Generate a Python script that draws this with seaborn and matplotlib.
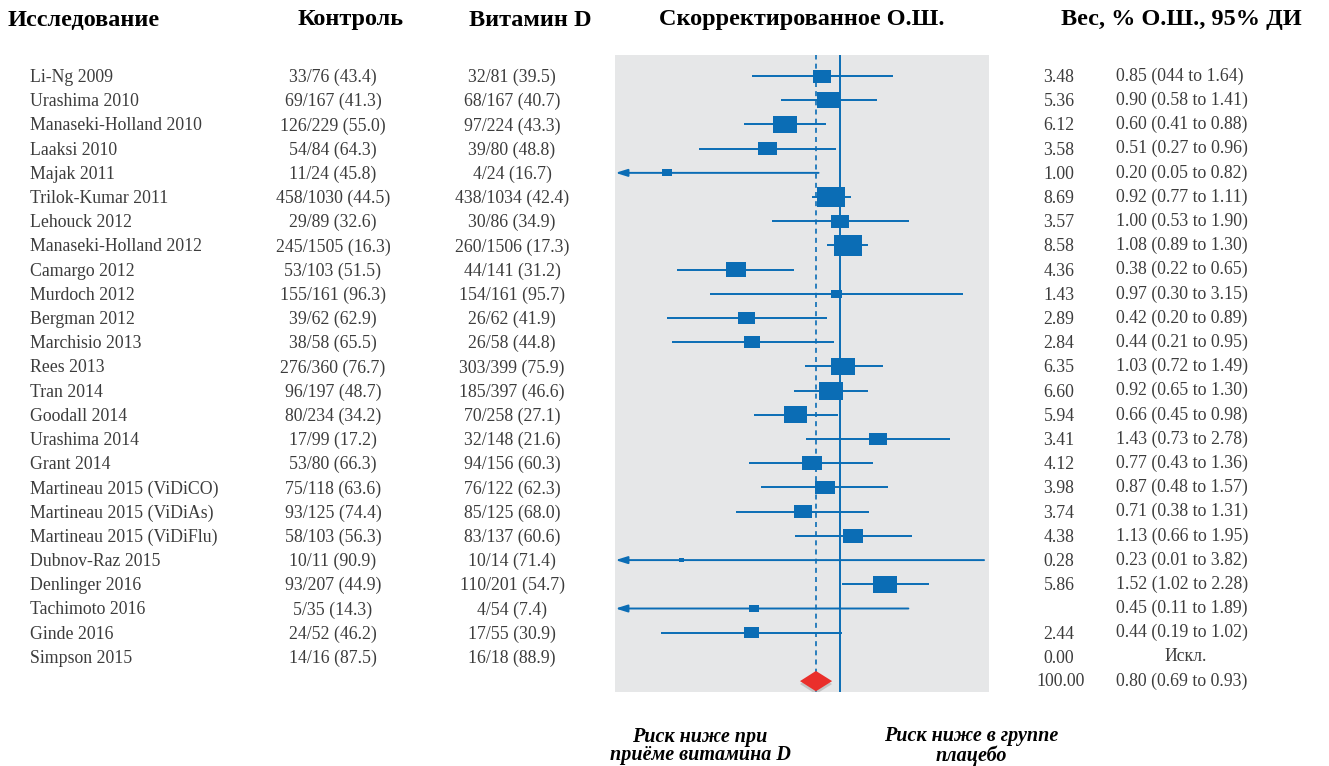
import numpy as np
import pandas as pd
import matplotlib
matplotlib.use("Agg")
from matplotlib import pyplot as plt
from matplotlib.path import Path
from matplotlib.transforms import blended_transform_factory
import seaborn as sns

# ---------------- DATA ---------------------------------------
studies = ['Li-Ng 2009', 'Urashima 2010', 'Manaseki-Holland 2010', 'Laaksi 2010',
           'Majak 2011', 'Trilok-Kumar 2011', 'Lehouck 2012', 'Manaseki-Holland 2012',
           'Camargo 2012', 'Murdoch 2012', 'Bergman 2012', 'Marchisio 2013',
           'Rees 2013', 'Tran 2014', 'Goodall 2014', 'Urashima 2014', 'Grant 2014',
           'Martineau 2015 (ViDiCO)', 'Martineau 2015 (ViDiAs)', 'Martineau 2015 (ViDiFlu)',
           'Dubnov-Raz 2015', 'Denlinger 2016', 'Tachimoto 2016', 'Ginde 2016',
           'Simpson 2015']
control = ['33/76 (43.4)', '69/167 (41.3)', '126/229 (55.0)', '54/84 (64.3)',
           '11/24 (45.8)', '458/1030 (44.5)', '29/89 (32.6)', '245/1505 (16.3)',
           '53/103 (51.5)', '155/161 (96.3)', '39/62 (62.9)', '38/58 (65.5)',
           '276/360 (76.7)', '96/197 (48.7)', '80/234 (34.2)', '17/99 (17.2)',
           '53/80 (66.3)', '75/118 (63.6)', '93/125 (74.4)', '58/103 (56.3)',
           '10/11 (90.9)', '93/207 (44.9)', '5/35 (14.3)', '24/52 (46.2)',
           '14/16 (87.5)']
vitamin_d = ['32/81 (39.5)', '68/167 (40.7)', '97/224 (43.3)', '39/80 (48.8)',
             '4/24 (16.7)', '438/1034 (42.4)', '30/86 (34.9)', '260/1506 (17.3)',
             '44/141 (31.2)', '154/161 (95.7)', '26/62 (41.9)', '26/58 (44.8)',
             '303/399 (75.9)', '185/397 (46.6)', '70/258 (27.1)', '32/148 (21.6)',
             '94/156 (60.3)', '76/122 (62.3)', '85/125 (68.0)', '83/137 (60.6)',
             '10/14 (71.4)', '110/201 (54.7)', '4/54 (7.4)', '17/55 (30.9)',
             '16/18 (88.9)']
weight = [3.48, 5.36, 6.12, 3.58, 1.00, 8.69, 3.57, 8.58, 4.36, 1.43, 2.89, 2.84,
          6.35, 6.60, 5.94, 3.41, 4.12, 3.98, 3.74, 4.38, 0.28, 5.86, np.nan, 2.44, 0.00]
odds = [0.85, 0.90, 0.60, 0.51, 0.20, 0.92, 1.00, 1.08, 0.38, 0.97, 0.42, 0.44,
        1.03, 0.92, 0.66, 1.43, 0.77, 0.87, 0.71, 1.13, 0.23, 1.52, 0.45, 0.44, np.nan]
ci_low = [0.44, 0.58, 0.41, 0.27, 0.05, 0.77, 0.53, 0.89, 0.22, 0.30, 0.20, 0.21,
          0.72, 0.65, 0.45, 0.73, 0.43, 0.48, 0.38, 0.66, 0.01, 1.02, 0.11, 0.19, np.nan]
ci_high = [1.64, 1.41, 0.88, 0.96, 0.82, 1.11, 1.90, 1.30, 0.65, 3.15, 0.89, 0.95,
           1.49, 1.30, 0.98, 2.78, 1.36, 1.57, 1.31, 1.95, 3.82, 2.28, 1.89, 1.02, np.nan]
or_labels = ['0.85 (044 to 1.64)', '0.90 (0.58 to 1.41)', '0.60 (0.41 to 0.88)',
             '0.51 (0.27 to 0.96)', '0.20 (0.05 to 0.82)', '0.92 (0.77 to 1.11)',
             '1.00 (0.53 to 1.90)', '1.08 (0.89 to 1.30)', '0.38 (0.22 to 0.65)',
             '0.97 (0.30 to 3.15)', '0.42 (0.20 to 0.89)', '0.44 (0.21 to 0.95)',
             '1.03 (0.72 to 1.49)', '0.92 (0.65 to 1.30)', '0.66 (0.45 to 0.98)',
             '1.43 (0.73 to 2.78)', '0.77 (0.43 to 1.36)', '0.87 (0.48 to 1.57)',
             '0.71 (0.38 to 1.31)', '1.13 (0.66 to 1.95)', '0.23 (0.01 to 3.82)',
             '1.52 (1.02 to 2.28)', '0.45 (0.11 to 1.89)', '0.44 (0.19 to 1.02)',
             'Искл.']
pooled_weight = 100.00
pooled_or, pooled_low, pooled_high = 0.80, 0.69, 0.93

headers = ['Исследование', 'Контроль', 'Витамин D', 'Скорректированное О.Ш.',
           'Вес, % О.Ш., 95% ДИ']
left_note = 'Риск ниже при\nприёме витамина D'
right_note = 'Риск ниже в группе\nплацебо'

# ---------------- STYLE ---------------------------------------
blue = '#0b6db5'
panel_bg = '#e6e7e8'
red = '#ea2f2b'
txt_gray = '#3c3c3c'

sns.set_style("white")
plt.rcParams['font.family'] = ['Liberation Serif', 'DejaVu Serif']

df = pd.DataFrame({'study': studies, 'w': weight, 'odds': odds,
                   'lo': ci_low, 'hi': ci_high})
df['row'] = np.arange(len(df))
# Tachimoto has no weight printed, still drawn with a small box
df['msize'] = df['w'].fillna(1.1)

W, H = 1329, 766
fig = plt.figure(figsize=(W / 100, H / 100), dpi=100)
ax = fig.add_axes([615 / W, 1 - 692 / H, (989 - 615) / W, (692 - 55) / H])
ax.set_facecolor(panel_bg)
xmin, xmax = 0.1235, 4.0
ax.set_xscale('log')
ax.set_xlim(xmin, xmax)
pooled_row = len(df)
ax.set_ylim(pooled_row + 0.45, -0.87)
for s in ax.spines.values():
    s.set_visible(False)
ax.set_xticks([])
ax.set_yticks([])
ax.minorticks_off()

# reference lines
ax.axvline(1.0, color=blue, lw=1.4, zorder=1)
ax.axvline(pooled_or, color=blue, lw=1.2, ls=(0, (3, 2.5)), zorder=1)

# confidence intervals
for _, r in df.dropna(subset=['odds']).iterrows():
    if r.lo < xmin:
        ax.annotate('', xy=(xmin * 1.005, r.row), xytext=(r.hi, r.row),
                    arrowprops=dict(arrowstyle='-|>,head_length=0.7,head_width=0.22',
                                    color=blue, lw=1.4, shrinkA=0, shrinkB=0),
                    zorder=2)
    else:
        ax.hlines(r.row, r.lo, r.hi, color=blue, lw=1.4, zorder=2)

# weighted boxes
box = Path([(-1, -0.72), (1, -0.72), (1, 0.72), (-1, 0.72), (-1, -0.72)],
           [Path.MOVETO, Path.LINETO, Path.LINETO, Path.LINETO, Path.CLOSEPOLY])
sns.scatterplot(data=df.dropna(subset=['odds']), x='odds', y='row', size='msize',
                sizes=(0, 480), size_norm=(0, 10), marker=box, color=blue,
                linewidth=0, legend=False, ax=ax, zorder=3)
ax.set_xlabel('')
ax.set_ylabel('')

# pooled diamond with soft shadow
dh = 0.42
ax.fill([pooled_low, pooled_or, pooled_high, pooled_or],
        [pooled_row + 0.12, pooled_row + 0.12 - dh, pooled_row + 0.12, pooled_row + 0.12 + dh],
        color='#9a9a9a', alpha=0.45, lw=0, zorder=3)
ax.fill([pooled_low, pooled_or, pooled_high, pooled_or],
        [pooled_row, pooled_row - dh, pooled_row, pooled_row + dh],
        color=red, lw=0, zorder=4)

# ---------------- TEXT COLUMNS ---------------------------------------
tr = blended_transform_factory(fig.transFigure, ax.transData)
fs = 12.8
for i, r in df.iterrows():
    kw = dict(transform=tr, va='center', fontsize=fs, color=txt_gray, clip_on=False)
    ax.text(30 / W, i + 0.06, studies[i], ha='left', **kw)
    ax.text(333 / W, i + 0.06, control[i], ha='center', **kw)
    ax.text(512 / W, i + 0.06, vitamin_d[i], ha='center', **kw)
    if not np.isnan(weight[i]):
        ax.text(1059 / W, i + 0.06, f'{weight[i]:.2f}', ha='center', **kw)
    if or_labels[i] == 'Искл.':
        ax.text(1186 / W, i, or_labels[i], ha='center', **kw)
    else:
        ax.text(1116 / W, i, or_labels[i], ha='left', **kw)
kw = dict(transform=tr, va='center', fontsize=fs, color=txt_gray, clip_on=False)
ax.text(1061 / W, pooled_row, f'{pooled_weight:.2f}', ha='center', **kw)
ax.text(1116 / W, pooled_row,
        f'{pooled_or:.2f} ({pooled_low:.2f} to {pooled_high:.2f})', ha='left', **kw)

hy = 1 - 20 / H
hkw = dict(fontsize=17.5, fontweight='bold', color='black', va='center')
fig.text(8 / W, hy, headers[0], ha='left', **hkw)
fig.text(351 / W, hy, headers[1], ha='center', **hkw)
fig.text(530 / W, hy, headers[2], ha='center', **hkw)
fig.text(802 / W, hy, headers[3], ha='center', **hkw)
fig.text(1181 / W, hy, headers[4], ha='center', **hkw)

nkw = dict(fontsize=14.5, fontweight='bold', fontstyle='italic', color='black',
           va='center', ha='center', linespacing=0.92)
fig.text(700 / W, 1 - 746 / H, left_note, **nkw)
fig.text(971 / W, 1 - 746 / H, right_note, **nkw)

fig.savefig('out.png', dpi=100)
